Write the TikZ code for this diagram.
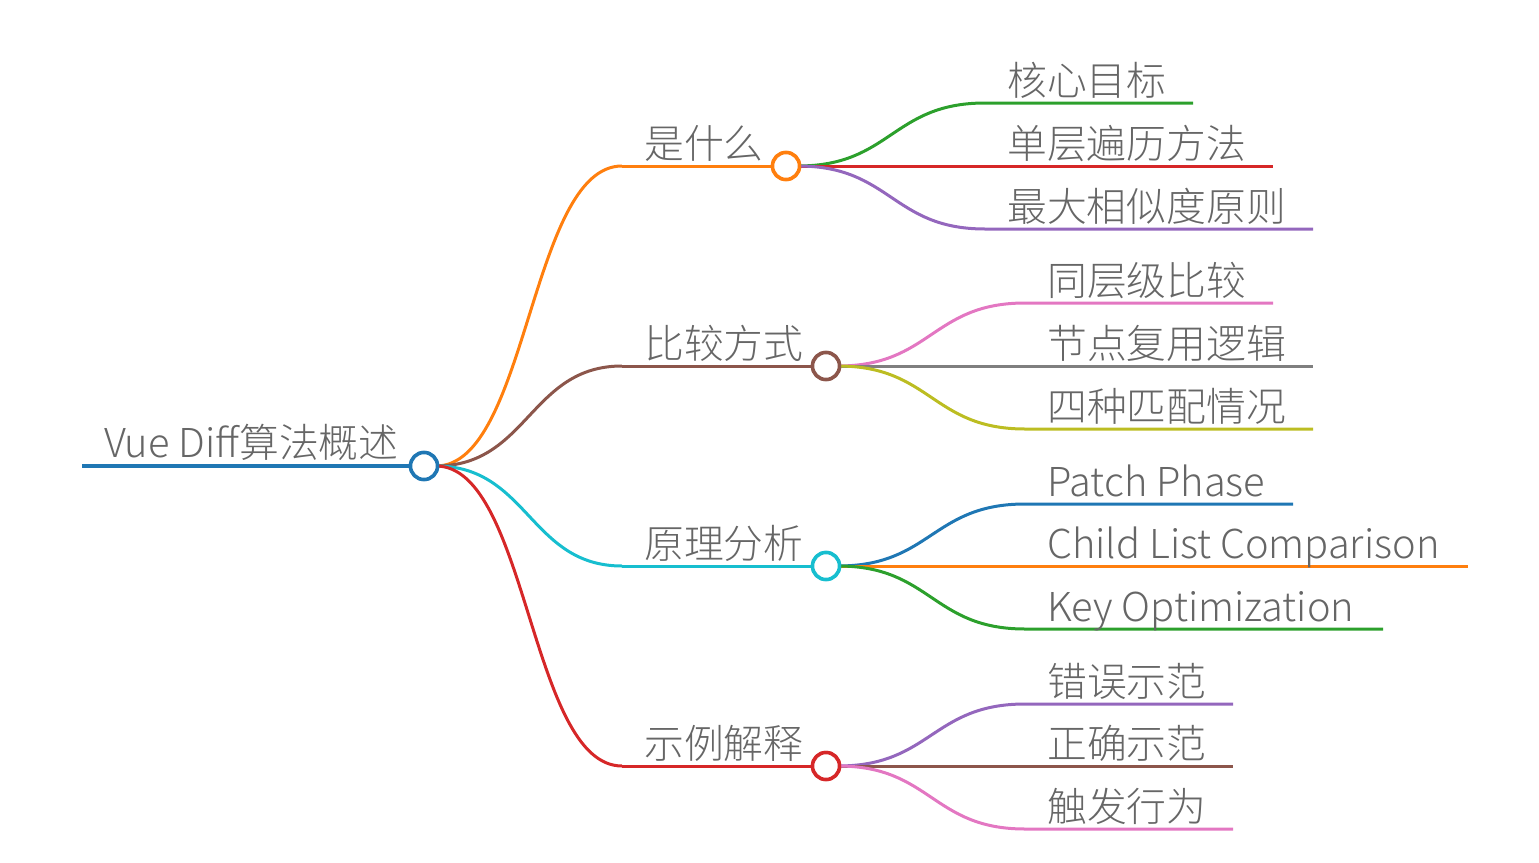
\documentclass[tikz,border=0pt]{standalone}
\usepackage{fontspec}
\setmainfont{Noto Sans CJK SC}[UprightFont={* Light}]
\definecolor{cblue}{HTML}{1F77B4}
\definecolor{corange}{HTML}{FF7F0E}
\definecolor{cgreen}{HTML}{2CA02C}
\definecolor{cred}{HTML}{D62728}
\definecolor{cpurple}{HTML}{9467BD}
\definecolor{cbrown}{HTML}{8C564B}
\definecolor{cpink}{HTML}{E377C2}
\definecolor{cgray}{HTML}{7F7F7F}
\definecolor{colive}{HTML}{BCBD22}
\definecolor{ccyan}{HTML}{17BECF}
\definecolor{txt}{HTML}{666666}
\begin{document}
\begin{tikzpicture}[x=1pt,y=-1pt,
  lbl/.style={anchor=base west,inner sep=0pt,text=txt,font=\fontsize{39.8}{44}\selectfont},
  br/.style={line width=3pt},
  knob/.style={circle,draw,fill=white,line width=3.5pt,minimum size=27pt,inner sep=0pt}]
\useasboundingbox (0,0) rectangle (1539,862);
% root
\coordinate (r0) at (82,466);
\node[knob,draw=cblue] (root) at (424,466) {};
\node[lbl] (rootl) at (104,457) {Vue Diff算法概述};
% level 1 start points
\coordinate (a0) at (622,166);
\coordinate (b0) at (622,366);
\coordinate (c0) at (622,566);
\coordinate (d0) at (622,766);
\coordinate (rc) at (436,466);
\draw[br,corange] (rc) .. controls +(92,0) and +(-92,0) .. (a0);
\draw[br,cbrown] (rc) .. controls +(92,0) and +(-92,0) .. (b0);
\draw[br,ccyan] (rc) .. controls +(92,0) and +(-92,0) .. (c0);
\draw[br,cred] (rc) .. controls +(92,0) and +(-92,0) .. (d0);
\draw[line width=4.5pt,cblue] (r0) -- (root);
% level 1 nodes
\node[knob,draw=corange] (a) at (786,166) {};
\node[knob,draw=cbrown] (b) at (826,366) {};
\node[knob,draw=ccyan] (c) at (826,566) {};
\node[knob,draw=cred] (d) at (826,766) {};
\node[lbl] (al) at (644,158) {是什么};
\node[lbl] (bl) at (644,358) {比较方式};
\node[lbl] (cl) at (644,558) {原理分析};
\node[lbl] (dl) at (644,758) {示例解释};
% level 2 start and end points
\coordinate (a1s) at (985,103); \coordinate (a1e) at (1193,103);
\coordinate (a2s) at (985,166); \coordinate (a2e) at (1273,166);
\coordinate (a3s) at (985,229); \coordinate (a3e) at (1313,229);
\coordinate (b1s) at (1025,303); \coordinate (b1e) at (1273,303);
\coordinate (b2s) at (1025,366); \coordinate (b2e) at (1313,366);
\coordinate (b3s) at (1025,429); \coordinate (b3e) at (1313,429);
\coordinate (c1s) at (1025,504); \coordinate (c1e) at (1293,504);
\coordinate (c2s) at (1025,566); \coordinate (c2e) at (1468,566);
\coordinate (c3s) at (1025,629); \coordinate (c3e) at (1383,629);
\coordinate (d1s) at (1025,704); \coordinate (d1e) at (1233,704);
\coordinate (d2s) at (1025,766); \coordinate (d2e) at (1233,766);
\coordinate (d3s) at (1025,829); \coordinate (d3e) at (1233,829);
\coordinate (ao) at (798,166);
\coordinate (bo) at (838,366);
\coordinate (co) at (838,566);
\coordinate (do) at (838,766);
% a children
\draw[br,cgreen] (ao) .. controls +(93,0) and +(-93,0) .. (a1s) -- (a1e);
\draw[br,cred] (ao) -- (a2s) -- (a2e);
\draw[br,cpurple] (ao) .. controls +(93,0) and +(-93,0) .. (a3s) -- (a3e);
% b children
\draw[br,cpink] (bo) .. controls +(93,0) and +(-93,0) .. (b1s) -- (b1e);
\draw[br,cgray] (bo) -- (b2s) -- (b2e);
\draw[br,colive] (bo) .. controls +(93,0) and +(-93,0) .. (b3s) -- (b3e);
% c children
\draw[br,cblue] (co) .. controls +(93,0) and +(-93,0) .. (c1s) -- (c1e);
\draw[br,corange] (co) -- (c2s) -- (c2e);
\draw[br,cgreen] (co) .. controls +(93,0) and +(-93,0) .. (c3s) -- (c3e);
% d children
\draw[br,cpurple] (do) .. controls +(93,0) and +(-93,0) .. (d1s) -- (d1e);
\draw[br,cbrown] (do) -- (d2s) -- (d2e);
\draw[br,cpink] (do) .. controls +(93,0) and +(-93,0) .. (d3s) -- (d3e);
% redraw level-1 lines and knobs on top
\draw[br,corange] (a0) -- (a);
\draw[br,cbrown] (b0) -- (b);
\draw[br,ccyan] (c0) -- (c);
\draw[br,cred] (d0) -- (d);
\node[knob,draw=corange] at (a) {};
\node[knob,draw=cbrown] at (b) {};
\node[knob,draw=ccyan] at (c) {};
\node[knob,draw=cred] at (d) {};
\node[knob,draw=cblue] at (root) {};
% level 2 labels
\node[lbl] (a1) at (1007,95) {核心目标};
\node[lbl] (a2) at (1007,158) {单层遍历方法};
\node[lbl] (a3) at (1007,221) {最大相似度原则};
\node[lbl] (b1) at (1047,295) {同层级比较};
\node[lbl] (b2) at (1047,358) {节点复用逻辑};
\node[lbl] (b3) at (1047,421) {四种匹配情况};
\node[lbl] (c1) at (1047,496) {Patch Phase};
\node[lbl] (c2) at (1047,558) {Child List Comparison};
\node[lbl] (c3) at (1047,621) {Key Optimization};
\node[lbl] (d1) at (1047,696) {错误示范};
\node[lbl] (d2) at (1047,758) {正确示范};
\node[lbl] (d3) at (1047,821) {触发行为};
\end{tikzpicture}
\end{document}
